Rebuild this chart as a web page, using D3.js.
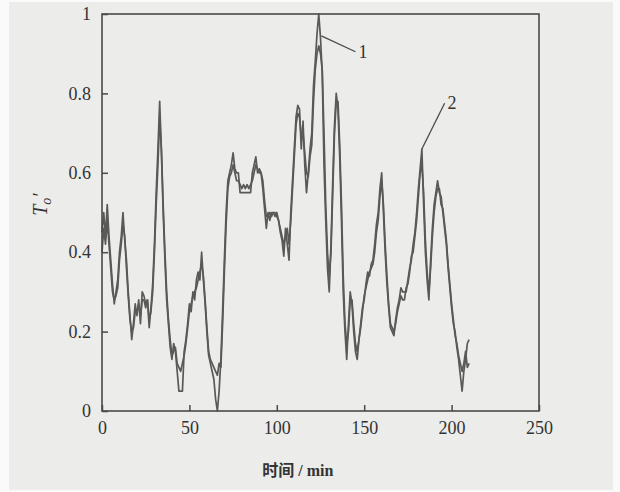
<!DOCTYPE html>
<html>
<head>
<meta charset="utf-8">
<script src="https://cdn.jsdelivr.net/npm/d3@7"></script>
<style>
  body { margin: 0; background: #fafafa; }
  svg { display: block; }
</style>
</head>
<body>
<div id="chart"></div>
<script>
// sampled once per minute
const timeMin = d3.range(0, 211);

const series1 = [
  0.45, 0.50, 0.44, 0.52, 0.44, 0.38, 0.32, 0.27, 0.30, 0.33,
  0.40, 0.44, 0.50, 0.43, 0.38, 0.30, 0.24, 0.18, 0.22, 0.27,
  0.24, 0.28, 0.22, 0.30, 0.29, 0.27, 0.28, 0.21, 0.26, 0.32,
  0.42, 0.55, 0.66, 0.78, 0.65, 0.50, 0.38, 0.28, 0.22, 0.16,
  0.13, 0.17, 0.15, 0.10, 0.05, 0.05, 0.05, 0.15, 0.18, 0.22,
  0.27, 0.25, 0.30, 0.28, 0.33, 0.35, 0.33, 0.40, 0.33, 0.27,
  0.20, 0.14, 0.12, 0.10, 0.08, 0.03, 0.00, 0.05, 0.13, 0.25,
  0.38, 0.50, 0.58, 0.60, 0.62, 0.65, 0.61, 0.60, 0.60, 0.55,
  0.55, 0.55, 0.55, 0.55, 0.55, 0.55, 0.60, 0.62, 0.64, 0.60,
  0.61, 0.60, 0.56, 0.51, 0.46, 0.50, 0.48, 0.50, 0.50, 0.49,
  0.50, 0.48, 0.45, 0.43, 0.39, 0.46, 0.42, 0.38, 0.50, 0.58,
  0.66, 0.74, 0.77, 0.76, 0.66, 0.73, 0.62, 0.55, 0.60, 0.66,
  0.70, 0.82, 0.88, 0.95, 1.00, 0.94, 0.85, 0.62, 0.48, 0.36,
  0.30, 0.42, 0.58, 0.72, 0.80, 0.76, 0.64, 0.48, 0.30, 0.20,
  0.13, 0.22, 0.30, 0.27, 0.20, 0.15, 0.13, 0.18, 0.22, 0.26,
  0.28, 0.32, 0.35, 0.34, 0.37, 0.38, 0.42, 0.47, 0.50, 0.56,
  0.60, 0.50, 0.40, 0.32, 0.26, 0.21, 0.20, 0.19, 0.23, 0.26,
  0.28, 0.31, 0.30, 0.30, 0.30, 0.33, 0.36, 0.38, 0.42, 0.45,
  0.50, 0.56, 0.61, 0.66, 0.52, 0.40, 0.33, 0.28, 0.38, 0.46,
  0.52, 0.55, 0.58, 0.55, 0.54, 0.50, 0.46, 0.42, 0.36, 0.31,
  0.26, 0.22, 0.20, 0.16, 0.13, 0.09, 0.05, 0.10, 0.13, 0.17,
  0.18
];

const series2 = [
  0.40, 0.46, 0.42, 0.48, 0.42, 0.36, 0.30, 0.28, 0.29, 0.31,
  0.38, 0.42, 0.47, 0.44, 0.36, 0.29, 0.23, 0.20, 0.21, 0.25,
  0.25, 0.27, 0.24, 0.28, 0.28, 0.26, 0.28, 0.23, 0.25, 0.30,
  0.40, 0.52, 0.62, 0.74, 0.66, 0.52, 0.40, 0.30, 0.23, 0.18,
  0.14, 0.15, 0.16, 0.12, 0.11, 0.10, 0.12, 0.14, 0.17, 0.21,
  0.25, 0.27, 0.29, 0.30, 0.31, 0.33, 0.35, 0.37, 0.34, 0.28,
  0.21, 0.15, 0.13, 0.12, 0.11, 0.10, 0.09, 0.12, 0.11, 0.22,
  0.35, 0.47, 0.56, 0.59, 0.60, 0.62, 0.60, 0.58, 0.58, 0.57,
  0.56, 0.57, 0.56, 0.57, 0.56, 0.57, 0.58, 0.60, 0.62, 0.61,
  0.60, 0.60, 0.58, 0.53, 0.49, 0.49, 0.50, 0.49, 0.50, 0.50,
  0.49, 0.48, 0.46, 0.44, 0.42, 0.44, 0.46, 0.42, 0.48, 0.56,
  0.64, 0.72, 0.75, 0.74, 0.69, 0.70, 0.65, 0.60, 0.59, 0.64,
  0.67, 0.78, 0.86, 0.90, 0.92, 0.90, 0.86, 0.70, 0.52, 0.40,
  0.34, 0.40, 0.55, 0.70, 0.78, 0.78, 0.67, 0.52, 0.34, 0.22,
  0.17, 0.20, 0.28, 0.28, 0.22, 0.17, 0.15, 0.18, 0.21, 0.25,
  0.29, 0.31, 0.33, 0.35, 0.36, 0.37, 0.40, 0.45, 0.48, 0.54,
  0.58, 0.52, 0.42, 0.34, 0.27, 0.22, 0.21, 0.20, 0.22, 0.25,
  0.27, 0.29, 0.28, 0.28, 0.31, 0.32, 0.35, 0.39, 0.40, 0.44,
  0.48, 0.54, 0.60, 0.62, 0.55, 0.43, 0.35, 0.30, 0.36, 0.44,
  0.50, 0.54, 0.56, 0.56, 0.52, 0.51, 0.47, 0.43, 0.37, 0.32,
  0.27, 0.23, 0.19, 0.17, 0.14, 0.12, 0.10, 0.12, 0.15, 0.11,
  0.12
];

const xTicks = [0, 50, 100, 150, 200, 250];
const yTicks = [0, 0.2, 0.4, 0.6, 0.8, 1];
const yTickLabels = ["0", "0.2", "0.4", "0.6", "0.8", "1"];

// leader lines for the curve numbers: [t0, v0, t1, v1, label]
const callouts = [
  [125.5, 0.945, 145, 0.905, "1"],
  [183, 0.66, 196, 0.775, "2"]
];

const width = 620, height = 492;
const margin = { top: 14, right: 81, bottom: 81, left: 102 };

const svg = d3.select("#chart").append("svg")
  .attr("width", width)
  .attr("height", height);

// scanned page: light grey sheet with a pale edge
svg.append("rect")
  .attr("width", width).attr("height", height)
  .attr("fill", "#fafafa");
svg.append("rect")
  .attr("x", 9).attr("y", 2)
  .attr("width", 604).attr("height", 488)
  .attr("fill", "#ececea");

const x = d3.scaleLinear().domain([0, 250]).range([margin.left, width - margin.right]);
const y = d3.scaleLinear().domain([0, 1]).range([height - margin.bottom, margin.top]);

const ink = "#4a4a4a";
const serif = "'Liberation Serif', 'DejaVu Serif', serif";

// curves
const line = d3.line()
  .x((d, i) => x(timeMin[i]))
  .y(d => y(d));

[series2, series1].forEach(s => {
  svg.append("path")
    .datum(s)
    .attr("fill", "none")
    .attr("stroke", "#595959")
    .attr("stroke-width", 1.7)
    .attr("stroke-linejoin", "round")
    .attr("d", line);
});

// frame
svg.append("rect")
  .attr("x", x(0)).attr("y", y(1))
  .attr("width", x(250) - x(0)).attr("height", y(0) - y(1))
  .attr("fill", "none")
  .attr("stroke", ink)
  .attr("stroke-width", 1.6);

// inward ticks
svg.append("g")
  .attr("transform", `translate(0,${y(0)})`)
  .call(d3.axisBottom(x).tickValues(xTicks).tickSize(-6).tickPadding(10).tickFormat(d3.format("d")))
  .call(g => g.select(".domain").remove())
  .call(g => g.selectAll("line").attr("stroke", ink).attr("stroke-width", 1.5))
  .call(g => g.selectAll("text")
    .attr("fill", "#333")
    .style("font-family", serif)
    .style("font-size", "18px"));

svg.append("g")
  .attr("transform", `translate(${x(0)},0)`)
  .call(d3.axisLeft(y).tickValues(yTicks).tickSize(-6).tickPadding(11)
    .tickFormat((d, i) => yTickLabels[i]))
  .call(g => g.select(".domain").remove())
  .call(g => g.selectAll("line").attr("stroke", ink).attr("stroke-width", 1.5))
  .call(g => g.selectAll("text")
    .attr("fill", "#333")
    .style("font-family", serif)
    .style("font-size", "18px"));

// curve number callouts
callouts.forEach(([t0, v0, t1, v1, label]) => {
  svg.append("line")
    .attr("x1", x(t0)).attr("y1", y(v0))
    .attr("x2", x(t1)).attr("y2", y(v1))
    .attr("stroke", ink)
    .attr("stroke-width", 1.3);
  svg.append("text")
    .attr("x", x(t1) + 3).attr("y", y(v1) + 6)
    .attr("fill", "#333")
    .style("font-family", serif)
    .style("font-size", "18px")
    .text(label);
});

// axis titles
const xTitle = svg.append("text")
  .attr("x", x(112))
  .attr("y", 476)
  .attr("text-anchor", "middle")
  .attr("fill", "#333")
  .style("font-size", "16px");
xTitle.append("tspan")
  .style("font-family", "'Noto Sans CJK SC', sans-serif")
  .style("font-weight", "bold")
  .text("时间");
xTitle.append("tspan")
  .style("font-family", serif)
  .style("font-weight", "bold")
  .text(" / min");

const yTitle = svg.append("text")
  .attr("transform", `translate(47,${y(0.52)}) rotate(-90)`)
  .attr("text-anchor", "middle")
  .attr("fill", "#333")
  .style("font-family", serif)
  .style("font-style", "italic")
  .style("font-size", "20px");
yTitle.append("tspan").text("T");
yTitle.append("tspan").attr("dy", 4).style("font-size", "14px").text("o");
yTitle.append("tspan").attr("dy", -4).text("′");
</script>
</body>
</html>
